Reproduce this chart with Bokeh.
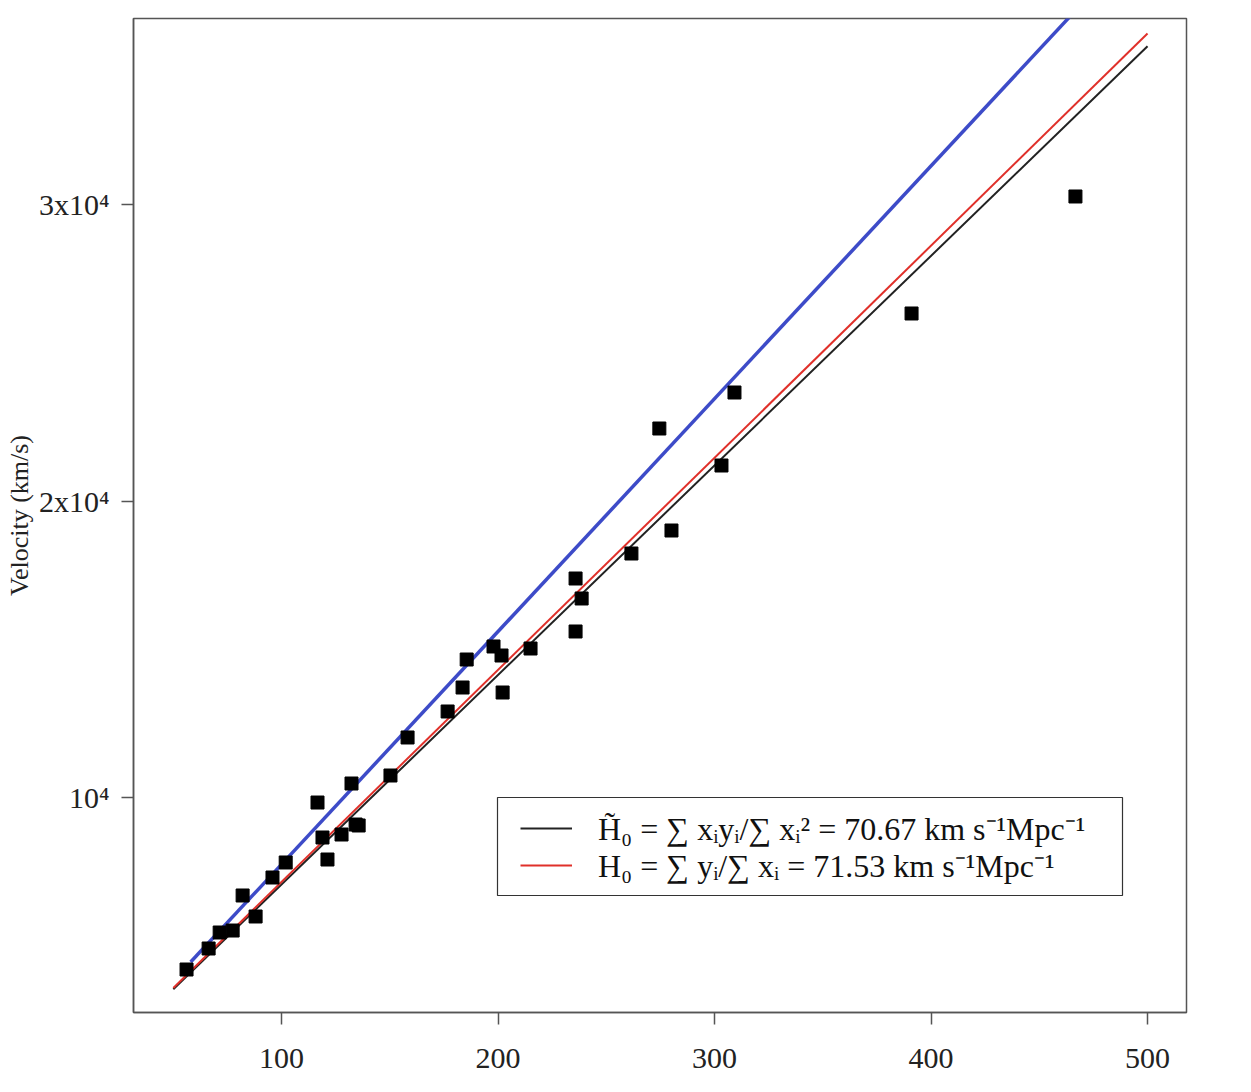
from bokeh.plotting import figure
from bokeh.models import FixedTicker, Legend, LegendItem, Range1d, BoxAnnotation
from bokeh.embed import file_html
from bokeh.resources import INLINE

# Data: distance (Mpc) and recession velocity (km/s)
distance = [56.1, 66.3, 71.4, 77.4, 82.0, 88.0, 95.8, 101.9, 116.6, 118.9,
            121.2, 127.7, 132.3, 134.2, 135.6, 150.3, 158.2, 176.7, 183.6, 185.5,
            197.9, 201.6, 202.1, 215.0, 235.8, 235.8, 238.6, 261.6, 274.5, 280.1,
            303.2, 309.2, 391.0, 466.7]
velocity = [4199, 4907, 5447, 5514, 6695, 5987, 7302, 7808, 9831, 8651,
            7909, 8752, 10472, 9089, 9056, 10742, 12024, 12901, 13710, 14654,
            15093, 14789, 13541, 15025, 17386, 15599, 16712, 18229, 22445, 19005,
            21197, 23659, 26324, 30270]

# Fitted slopes (km/s/Mpc)
h0_tilde = 70.67
h0 = 71.53
fit_x = [50, 500]
fit_black = [h0_tilde * x for x in fit_x]
fit_red = [h0 * x for x in fit_x]

# Hand-drawn blue line endpoints
blue_x = [58, 475]
blue_y = [4450, 37190]

x_ticks = [100, 200, 300, 400, 500]
y_ticks = [10000, 20000, 30000]
y_tick_labels = ["10\u2074", "2x10\u2074", "3x10\u2074"]

label_1 = "H\u0303\u2080 = \u2211 x\u1d62y\u1d62/\u2211 x\u1d62\u00b2 = 70.67 km s\u207b\u00b9Mpc\u207b\u00b9"
label_2 = "H\u2080 = \u2211 y\u1d62/\u2211 x\u1d62 = 71.53 km s\u207b\u00b9Mpc\u207b\u00b9"

FONT = "Liberation Serif"

p = figure(width=1248, height=1088, output_backend="svg", toolbar_location=None,
           x_range=Range1d(31.6, 518.0), y_range=Range1d(2749, 36273),
           min_border_left=133, min_border_right=62, min_border_top=18,
           min_border_bottom=76)

p.grid.visible = False
p.outline_line_color = "#555555"
p.outline_line_width = 1.5
p.background_fill_color = "white"

r_black = p.line(fit_x, fit_black, line_color="#222222", line_width=2)
r_red = p.line(fit_x, fit_red, line_color="#e0302a", line_width=2)
p.line(blue_x, blue_y, line_color="#3d4bc8", line_width=3.5)
p.scatter(distance, velocity, marker="square", size=13, fill_color="black",
          line_color="black")

for ax in (p.xaxis[0], p.yaxis[0]):
    ax.axis_line_color = "#555555"
    ax.axis_line_width = 1.5
    ax.major_tick_line_color = "#555555"
    ax.major_tick_line_width = 1.5
    ax.major_tick_out = 12
    ax.major_tick_in = 0
    ax.minor_tick_line_color = None
    ax.major_label_text_font = FONT
    ax.major_label_text_font_size = "30px"
    ax.major_label_text_color = "#222222"

p.xaxis.ticker = FixedTicker(ticks=x_ticks)
p.xaxis.major_label_standoff = 24
p.yaxis.ticker = FixedTicker(ticks=y_ticks)
p.yaxis.major_label_overrides = {t: l for t, l in zip(y_ticks, y_tick_labels)}
p.yaxis.major_label_orientation = "horizontal"
p.yaxis.major_label_standoff = 12
p.yaxis.axis_label = "Velocity (km/s)"
p.yaxis.axis_label_text_font = FONT
p.yaxis.axis_label_text_font_style = "normal"
p.yaxis.axis_label_text_font_size = "26px"
p.yaxis.axis_label_standoff = 2
p.yaxis.axis_label_text_color = "#222222"

# Legend frame
p.add_layout(BoxAnnotation(left=497, right=1122, top=797, bottom=895,
                           left_units="canvas", right_units="canvas",
                           top_units="canvas", bottom_units="canvas",
                           fill_color="white", fill_alpha=1.0,
                           line_color="#333333", line_width=1.2, line_alpha=1.0))


def make_legend(item, loc):
    lg = Legend(items=[item], location=loc)
    lg.label_text_font = FONT
    lg.label_text_font_size = "32px"
    lg.label_text_color = "#111111"
    lg.glyph_width = 52
    lg.glyph_height = 26
    lg.label_height = 26
    lg.label_standoff = 26
    lg.spacing = 0
    lg.padding = 0
    lg.margin = 0
    lg.border_line_color = None
    lg.background_fill_alpha = 0.0
    return lg


p.add_layout(make_legend(LegendItem(label=label_1, renderers=[r_black]), (387, 163)))
p.add_layout(make_legend(LegendItem(label=label_2, renderers=[r_red]), (387, 126)))

open("out.html", "w").write(file_html(p, INLINE))
